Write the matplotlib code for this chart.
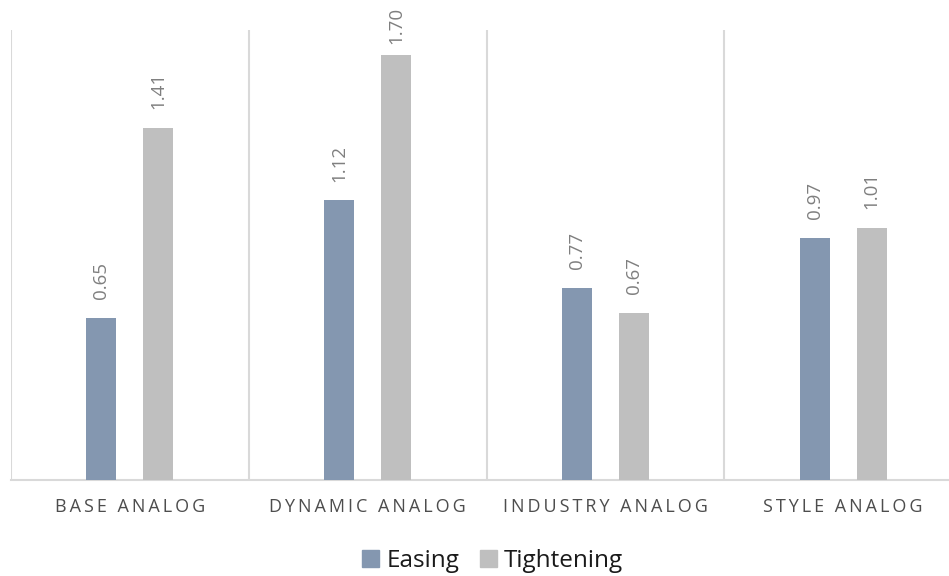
import numpy as np
import matplotlib.pyplot as plt
from matplotlib.patches import Patch

categories = ['BASE ANALOG', 'DYNAMIC ANALOG', 'INDUSTRY ANALOG', 'STYLE ANALOG']
easing = [0.65, 1.12, 0.77, 0.97]
tightening = [1.41, 1.70, 0.67, 1.01]
series_names = ['Easing', 'Tightening']

EASE_COLOR = '#8497B0'
TIGHT_COLOR = '#BFBFBF'
GRID_COLOR = '#D9D9D9'

plt.rcParams['font.family'] = ['Open Sans', 'DejaVu Sans']


def tracked(label):
    # spread capitals out with thin spaces
    words = [u'\u2009'.join(w) for w in label.split(' ')]
    return (u'\u2009 \u2009').join(words)


fig = plt.figure(figsize=(9.49, 5.76), dpi=100)
ax = fig.add_axes([11 / 949, 96 / 576, 951 / 949, 450 / 576])

x = np.arange(len(categories))
w = 0.126
off = 0.12
b1 = ax.bar(x - off, easing, w, color=EASE_COLOR, zorder=3)
b2 = ax.bar(x + off, tightening, w, color=TIGHT_COLOR, zorder=3)

for bars, vals in ((b1, easing), (b2, tightening)):
    for rect, v in zip(bars, vals):
        # keep labels of tall bars inside the plot area
        pad = 13 if v < 1.6 else 8
        ax.annotate('%.2f' % v, (rect.get_x() + rect.get_width() / 2, v),
                    xytext=(0, pad), textcoords='offset points',
                    rotation=90, ha='center', va='bottom',
                    fontsize=13.5, color='#7F7F7F')

ax.set_xlim(-0.5, len(categories) - 0.5)
ax.set_ylim(0, 1.8)

# category separators
for xs in np.arange(len(categories) + 1) - 0.5:
    ax.axvline(xs, color=GRID_COLOR, lw=1.5, zorder=1)

for s in ['top', 'right', 'left']:
    ax.spines[s].set_visible(False)
ax.spines['bottom'].set_color(GRID_COLOR)
ax.spines['bottom'].set_linewidth(1.5)

ax.set_yticks([])
ax.set_xticks(x)
ax.set_xticklabels([tracked(c) for c in categories], fontsize=13, color='#4D4D4D')
ax.tick_params(axis='x', length=0, pad=13)

handles = [Patch(color=EASE_COLOR), Patch(color=TIGHT_COLOR)]
fig.legend(handles, series_names, loc='center', bbox_to_anchor=(0.519, 1 - 561 / 576),
           ncol=2, frameon=False, fontsize=17.5, handlelength=0.7, handleheight=0.7,
           handletextpad=0.3, columnspacing=0.85, labelcolor='#1A1A1A')

fig.savefig('out.png', dpi=100)
